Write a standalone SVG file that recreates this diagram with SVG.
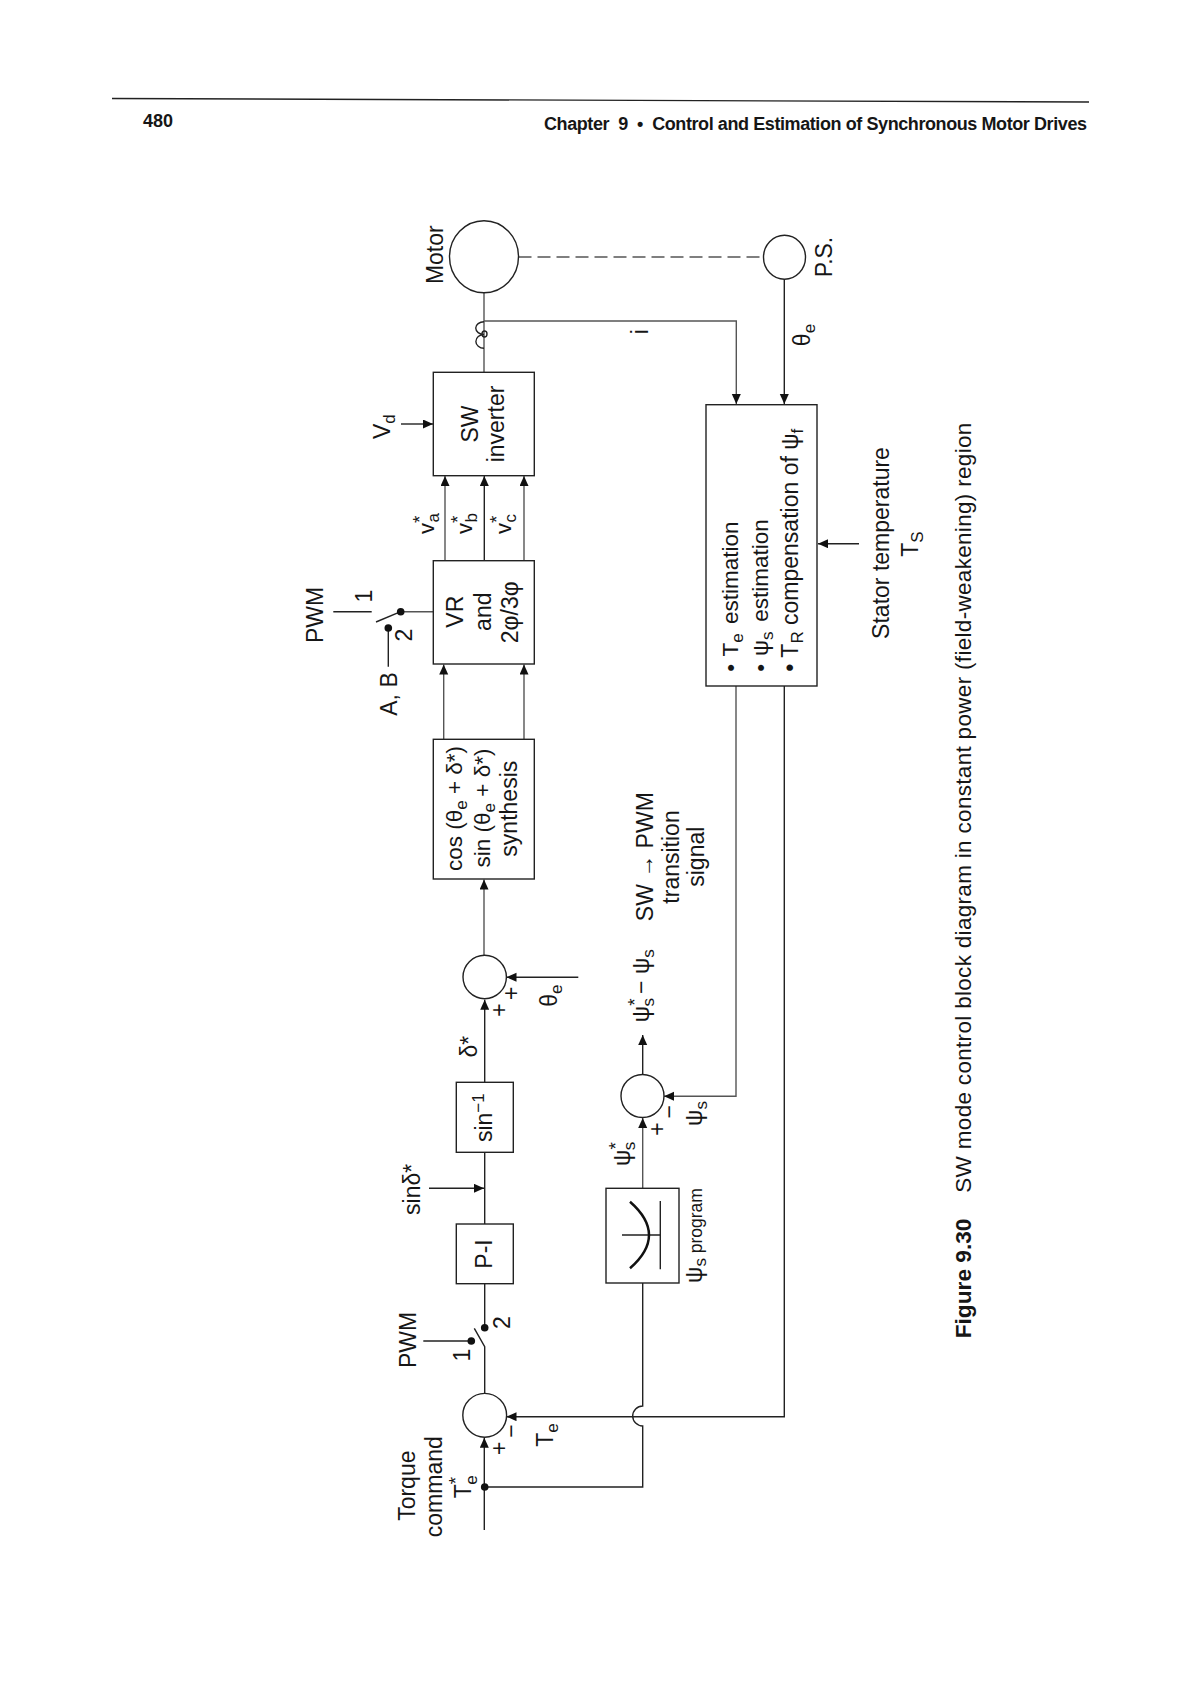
<svg xmlns="http://www.w3.org/2000/svg" width="1190" height="1684" viewBox="0 0 1190 1684">
<style>
text{font-family:"Liberation Sans",Arial,sans-serif;font-size:23px;fill:#161616}
.m{text-anchor:middle}
.e{font-size:22.5px}
.v{font-size:22px}
.b{font-weight:bold}
.s{font-size:17px}
.u{font-size:19px}
.box,.sum{fill:none;stroke:#222;stroke-width:1.4}
.ln{fill:none;stroke:#222;stroke-width:1.4}
.g{stroke:#555}
.ar{marker-end:url(#a)}
.dot{fill:#111;stroke:none}
</style>
<defs>
<marker id="a" markerUnits="userSpaceOnUse" markerWidth="11" markerHeight="10" refX="10" refY="4.5" orient="auto"><path d="M0 0L10 4.5L0 9Z" fill="#111"/></marker>
</defs>
<rect width="1190" height="1684" fill="#fff"/>
<g id="page-header">
<path class="ln" d="M112 98.5L1089 102"/>
<text class="b" x="143" y="127" style="font-size:18px">480</text>
<text class="b" x="544" y="129.5" style="font-size:18px;white-space:pre" textLength="543">Chapter  9  •  Control and Estimation of Synchronous Motor Drives</text>
</g>
<g id="connectors">
<path class="ln g" d="M518.5 257H763" stroke-dasharray="13 6"/>
<path class="ln g" d="M484 292.5V372.3"/>
<path class="ln g ar" d="M484 321H736.3V404"/>
<path class="ln" d="M484 321.7A8 6.2 0 0 0 484 334.5A8 6.8 0 0 0 484 348.3"/>
<ellipse class="ln" cx="484.5" cy="334" rx="2.5" ry="3"/>
<path class="ln ar" d="M784.3 279.3V404"/>
<path class="ln ar" d="M401 424H433"/>
<path class="ln g ar" d="M445 560.7V476"/>
<path class="ln ar" d="M484.3 560.7V476"/>
<path class="ln g ar" d="M524 560.7V476"/>
<path class="ln ar" d="M859 543.7H818"/>
<path class="ln g" d="M400.7 611.7H433.3"/>
<path class="ln" d="M400.7 611.7L376 622"/>
<path class="ln" d="M333.3 611.7H371.7"/>
<path class="ln" d="M388.3 628V666.7"/>
<path class="ln g ar" d="M443.7 739.3V664.5"/>
<path class="ln g ar" d="M524 739.3V664.5"/>
<path class="ln g ar" d="M484 955V879.5"/>
<path class="ln ar" d="M578.3 977.3H506.5"/>
<path class="ln ar" d="M484.7 1082.3V999.8"/>
<path class="ln" d="M484.7 1152.3V1224"/>
<path class="ln ar" d="M429 1188.3H484"/>
<path class="ln" d="M484.7 1283.7V1327.7"/>
<path class="ln" d="M423.3 1341H471.3"/>
<path class="ln" d="M474.3 1328.3L484.7 1346.7V1393.3"/>
<path class="ln ar" d="M484.3 1530V1437.8"/>
<path class="ln" d="M484.7 1487H642.7V1426A10 10 0 0 1 642.7 1406V1283"/>
<path class="ln g ar" d="M642.7 1188.3V1118"/>
<path class="ln ar" d="M642.7 1074V1035"/>
<path class="ln g ar" d="M736 686V1096.3H664"/>
<path class="ln ar" d="M784.3 686V1416.7H506.5"/>
<circle class="dot" cx="400.7" cy="611.7" r="3.8"/>
<circle class="dot" cx="388.3" cy="628" r="3.8"/>
<circle class="dot" cx="484.7" cy="1327.7" r="3.8"/>
<circle class="dot" cx="471.3" cy="1341" r="3.8"/>
<circle class="dot" cx="484.7" cy="1487" r="3.8"/>
</g>
<g id="motor">
<ellipse class="sum" cx="484" cy="256.7" rx="34.5" ry="36"/>
<text class="m" transform="translate(442.7 254.7) rotate(-90)">Motor</text>
</g>
<g id="position-sensor">
<ellipse class="sum" cx="784.5" cy="257.2" rx="21" ry="22"/>
<text class="m" transform="translate(832 257) rotate(-90)">P.S.</text>
</g>
<g id="sw-inverter">
<rect class="box" x="433.3" y="372.3" width="101" height="103.4"/>
<text class="m" transform="translate(477.7 424) rotate(-90)">SW</text>
<text class="m" transform="translate(504.3 424) rotate(-90)">inverter</text>
</g>
<g id="vr-block">
<rect class="box" x="433.3" y="560.7" width="101" height="103.3"/>
<text class="m" transform="translate(462.7 611.7) rotate(-90)">VR</text>
<text class="m" transform="translate(490.7 611.7) rotate(-90)">and</text>
<text class="m" transform="translate(518.3 612.3) rotate(-90)">2φ/3φ</text>
</g>
<g id="synthesis">
<rect class="box" x="433.3" y="739.3" width="101" height="139.7"/>
<text class="m" transform="translate(462.3 808.5) rotate(-90)" style="font-size:22.5px">cos (θ<tspan class="s" dy="5">e</tspan><tspan dy="-5"> + δ*)</tspan></text>
<text class="m" transform="translate(490 808) rotate(-90)" style="font-size:22.5px">sin (θ<tspan class="s" dy="5">e</tspan><tspan dy="-5"> + δ*)</tspan></text>
<text class="m" transform="translate(517.3 808.7) rotate(-90)">synthesis</text>
</g>
<g id="estimation">
<rect class="box" x="706" y="404.7" width="111" height="281.3"/>
<text class="e" transform="translate(738.3 671.7) rotate(-90)">• <tspan dx="1.5">T</tspan><tspan class="s" dy="5">e</tspan><tspan dy="-5" dx="3"> estimation</tspan></text>
<text class="e" transform="translate(768.3 671.7) rotate(-90)">• <tspan dx="1.5">ψ</tspan><tspan class="s" dy="5">s</tspan><tspan dy="-5" dx="3.5"> estimation</tspan></text>
<text transform="translate(798 671.7) rotate(-90)">• T<tspan class="s" dy="5">R</tspan><tspan dy="-5"> compensation of ψ</tspan><tspan class="s" dy="5">f</tspan></text>
</g>
<g id="sum-angle">
<circle class="sum" cx="484.7" cy="977" r="21.7"/>
<text class="m" transform="translate(507 1010) rotate(-90)">+</text>
<text class="m" transform="translate(519 993.3) rotate(-90)">+</text>
</g>
<g id="sin-inverse">
<rect class="box" x="456.3" y="1082.3" width="57" height="70"/>
<text class="m" transform="translate(492.3 1117.7) rotate(-90)">sin<tspan class="s" dy="-8">−1</tspan></text>
</g>
<g id="pi">
<rect class="box" x="456.3" y="1224" width="57" height="59.7"/>
<text class="m" transform="translate(491.7 1254) rotate(-90)">P-I</text>
</g>
<g id="sum-torque">
<circle class="sum" cx="484.7" cy="1415.3" r="21.9"/>
<text class="m" transform="translate(507 1448.3) rotate(-90)">+</text>
<text class="m" transform="translate(519 1431) rotate(-90)">−</text>
</g>
<g id="sum-flux">
<circle class="sum" cx="642.5" cy="1096" r="21.5"/>
<text class="m" transform="translate(665 1129) rotate(-90)">+</text>
<text class="m" transform="translate(677 1111.7) rotate(-90)">−</text>
</g>
<g id="flux-program">
<rect class="box" x="606" y="1188.3" width="73" height="94.7"/>
<path class="ln" d="M622 1235H660.3M660.3 1201V1269.3"/>
<path fill="none" stroke="#111" stroke-width="2.5" d="M630 1201.7Q668 1235 630 1268.3"/>
<text transform="translate(701.7 1283) rotate(-90)">ψ<tspan class="s" dy="4">s</tspan><tspan dy="-4" style="font-size:17.5px"> program</tspan></text>
</g>
<g id="labels">
<text class="m" transform="translate(809.7 335) rotate(-90)">θ<tspan class="s" dy="5">e</tspan></text>
<text class="m" transform="translate(647.7 331.7) rotate(-90)">i</text>
<text transform="translate(389.5 439) rotate(-90)">V<tspan class="s" dy="5">d</tspan></text>
<text class="v" transform="translate(434.3 534) rotate(-90)">v<tspan class="u" dy="-8">*</tspan><tspan class="s" dx="-7" dy="13">a</tspan></text>
<text class="v" transform="translate(471.7 534) rotate(-90)">v<tspan class="u" dy="-8">*</tspan><tspan class="s" dx="-7" dy="13">b</tspan></text>
<text class="v" transform="translate(510.7 534) rotate(-90)">v<tspan class="u" dy="-8">*</tspan><tspan class="s" dx="-7" dy="13">c</tspan></text>
<text class="m" transform="translate(322.7 615) rotate(-90)">PWM</text>
<text class="m" transform="translate(371.7 596) rotate(-90)">1</text>
<text class="m" transform="translate(411.7 635) rotate(-90)">2</text>
<text class="m" transform="translate(397.3 694) rotate(-90)">A, B</text>
<text class="m" transform="translate(652.7 856.7) rotate(-90)">SW → PWM</text>
<text class="m" transform="translate(679.3 857) rotate(-90)">transition</text>
<text class="m" transform="translate(704 856.7) rotate(-90)">signal</text>
<text class="m" transform="translate(649 985.7) rotate(-90)">ψ<tspan class="u" dy="-8">*</tspan><tspan class="s" dx="-8" dy="13">s</tspan><tspan dy="-5" dx="4">− ψ</tspan><tspan class="s" dy="5">s</tspan></text>
<text class="m" transform="translate(476.7 1046.7) rotate(-90)">δ*</text>
<text class="m" transform="translate(557.3 995.7) rotate(-90)">θ<tspan class="s" dy="5">e</tspan></text>
<text class="m" transform="translate(420 1189.3) rotate(-90)">sinδ*</text>
<text class="m" transform="translate(415.7 1340) rotate(-90)">PWM</text>
<text class="m" transform="translate(470 1355) rotate(-90)">1</text>
<text class="m" transform="translate(510 1322.7) rotate(-90)">2</text>
<text transform="translate(553.3 1446.7) rotate(-90)">T<tspan class="s" dy="5">e</tspan></text>
<text class="m" transform="translate(415 1485.7) rotate(-90)">Torque</text>
<text class="m" transform="translate(442.3 1486.7) rotate(-90)">command</text>
<text transform="translate(470.7 1498.3) rotate(-90)">T<tspan class="u" dy="-9">*</tspan><tspan class="s" dx="-8" dy="15">e</tspan></text>
<text transform="translate(630 1166) rotate(-90)">ψ<tspan class="u" dy="-8">*</tspan><tspan class="s" dx="-8" dy="13">s</tspan></text>
<text transform="translate(701.7 1126) rotate(-90)">ψ<tspan class="s" dy="5">s</tspan></text>
<text class="m" transform="translate(889.3 543) rotate(-90)">Stator temperature</text>
<text transform="translate(918.3 556.7) rotate(-90)">T<tspan class="s" dy="5">S</tspan></text>
</g>
<g id="caption">
<text class="b" transform="translate(970.7 1338.3) rotate(-90)" style="font-size:22.7px">Figure 9.30</text>
<text transform="translate(971 1192.7) rotate(-90)" textLength="770" style="font-size:22.5px">SW mode control block diagram in constant power (field-weakening) region</text>
</g>
</svg>
